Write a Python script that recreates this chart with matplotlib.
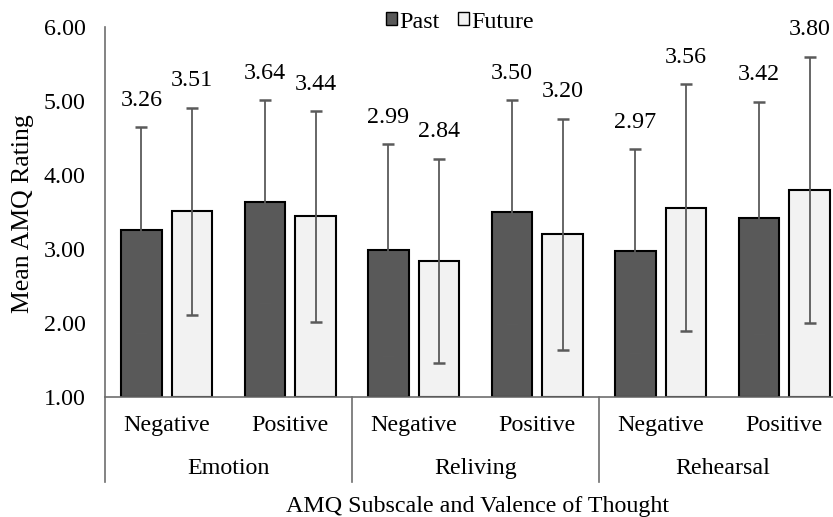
import matplotlib.pyplot as plt
from matplotlib.patches import Patch
from matplotlib.transforms import blended_transform_factory

plt.rcParams['font.family'] = ['Liberation Serif', 'DejaVu Serif']

subescalas = ['Emotion', 'Reliving', 'Rehearsal']
valencias = ['Negative', 'Positive', 'Negative', 'Positive', 'Negative', 'Positive']
pasado = [3.26, 3.64, 2.99, 3.50, 2.97, 3.42]
futuro = [3.51, 3.44, 2.84, 3.20, 3.56, 3.80]
sd_pasado = [1.39, 1.37, 1.43, 1.51, 1.38, 1.57]
sd_futuro = [1.40, 1.42, 1.38, 1.56, 1.67, 1.80]

W, H = 833, 517
fig = plt.figure(figsize=(W / 100, H / 100), dpi=100)
# eje: izquierda 105 px, arriba 27 px, abajo 397 px, derecha fuera de la imagen
ax = fig.add_axes([105 / W, (H - 397) / H, (846 - 105) / W, (397 - 27) / H])

x = list(range(len(pasado)))
ancho = 0.33
desp = 0.205
gris_err = '#5a5a5a'
fs = 17.3

xp = [i - desp for i in x]
xf = [i + desp for i in x]
ax.bar(xp, [v - 1 for v in pasado], ancho, bottom=1, color='#595959',
       edgecolor='black', linewidth=1.5, zorder=2)
ax.bar(xf, [v - 1 for v in futuro], ancho, bottom=1, color='#f2f2f2',
       edgecolor='black', linewidth=1.5, zorder=2)
ax.errorbar(xp, pasado, yerr=sd_pasado, fmt='none', ecolor=gris_err,
            elinewidth=1.3, capsize=4, capthick=1.8, zorder=3)
ax.errorbar(xf, futuro, yerr=sd_futuro, fmt='none', ecolor=gris_err,
            elinewidth=1.3, capsize=4, capthick=1.8, zorder=3)

for xs, vals, sds in [(xp, pasado, sd_pasado), (xf, futuro, sd_futuro)]:
    for xi, v, s in zip(xs, vals, sds):
        ax.text(xi, v + s + 0.22, f'{v:.2f}', ha='center', va='bottom', fontsize=fs)

ax.set_xlim(-0.5, 5.5)
ax.set_ylim(1, 6)
ax.set_yticks([1, 2, 3, 4, 5, 6])
ax.set_yticklabels([f'{t:.2f}' for t in [1, 2, 3, 4, 5, 6]], fontsize=fs)
ax.tick_params(axis='y', length=0, pad=14)
ax.set_xticks([])
for lado in ['top', 'right']:
    ax.spines[lado].set_visible(False)
for lado in ['left', 'bottom']:
    ax.spines[lado].set_color('#6e6e6e')
    ax.spines[lado].set_linewidth(1.2)

tr = blended_transform_factory(ax.transData, ax.transAxes)
for xi, lab in zip(x, valencias):
    ax.text(xi, -0.076, lab, ha='center', va='center', fontsize=fs, transform=tr)
for k, lab in enumerate(subescalas):
    ax.text(2 * k + 0.5, -0.192, lab, ha='center', va='center', fontsize=fs, transform=tr)
for xs in [-0.5, 1.5, 3.5, 5.5]:
    ax.plot([xs, xs], [0, -0.23], color='#6e6e6e', lw=1.2, transform=tr, clip_on=False)

fig.text(477 / W, 1 - 496 / H, 'AMQ Subscale and Valence of Thought',
         ha='center', va='top', fontsize=fs)
fig.text(23 / W, 1 - 214 / H, 'Mean AMQ Rating', rotation=90,
         ha='center', va='center', fontsize=18.5)

manejadores = [Patch(facecolor='#595959', edgecolor='black', label='Past'),
               Patch(facecolor='#f2f2f2', edgecolor='black', label='Future')]
fig.legend(handles=manejadores, loc='center', bbox_to_anchor=(460 / W, 1 - 22 / H),
           ncol=2, frameon=False, fontsize=fs, handlelength=0.45, handleheight=0.45,
           handletextpad=0.1, columnspacing=0.8, borderpad=0)

fig.savefig('out.png', dpi=100)
